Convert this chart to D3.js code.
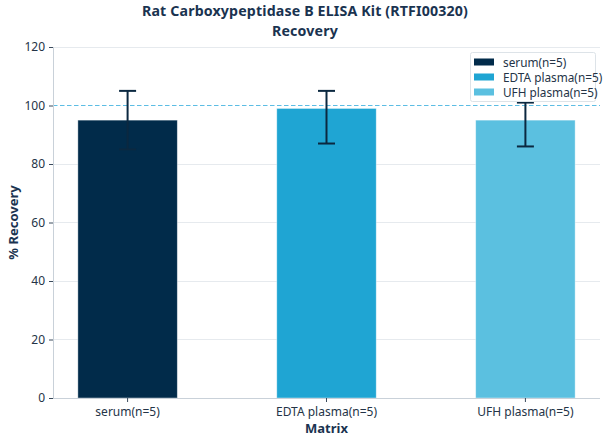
<html>
<head>
<style>
  body { margin: 0; background: #fff; }
  text { font-family: "Noto Sans", "Open Sans", sans-serif; }
</style>
</head>
<body>
<svg id="chart" width="608" height="444"></svg>
<script src="https://cdn.jsdelivr.net/npm/d3@7"></script>
<script>
  const categories = ["serum(n=5)", "EDTA plasma(n=5)", "UFH plasma(n=5)"]
  const recovery = [95, 99, 95]
  const errLow = [85, 87, 86]
  const errHigh = [105, 105, 101]
  const colors = ["#012b4a", "#1fa5d3", "#5bc0e0"]
  const yTicks = [0, 20, 40, 60, 80, 100, 120]
  const titleLines = ["Rat Carboxypeptidase B ELISA Kit (RTFI00320)", "Recovery"]

  const svg = d3.select("#chart")
  const plotL = 53, plotR = 600, plotT = 47, plotB = 398

  let x = d3.scaleBand().domain(categories).range([plotL, plotR])
    .paddingInner(0.5).paddingOuter(0.125)
  let y = d3.scaleLinear().domain([0, 120]).range([plotB, plotT])
  const crisp = v => Math.floor(v) + 0.5

  // grid (skip 100, the dashed line sits there)
  svg.append("g").selectAll("line").data(yTicks.filter(d => d != 100)).enter().append("line")
    .attr("x1", plotL).attr("x2", plotR)
    .attr("y1", d => crisp(y(d))).attr("y2", d => crisp(y(d)))
    .attr("stroke", "#e6eaee").attr("stroke-width", 1)

  // bars
  svg.append("g").selectAll("rect").data(categories).enter().append("rect")
    .attr("x", d => x(d))
    .attr("width", x.bandwidth())
    .attr("y", (d, i) => y(recovery[i]))
    .attr("height", (d, i) => y(0) - y(recovery[i]))
    .attr("fill", (d, i) => colors[i])
    .attr("stroke", "rgba(255,255,255,0.5)").attr("stroke-width", 0.8)

  // reference line at 100
  svg.append("line")
    .attr("x1", plotL).attr("x2", plotR)
    .attr("y1", crisp(y(100))).attr("y2", crisp(y(100)))
    .attr("stroke", "#5cbde4").attr("stroke-width", 1.2)
    .attr("stroke-dasharray", "4.5,2.5")

  // error bars
  let eb = svg.append("g").selectAll("g").data(categories).enter().append("g")
  const cx = d => x(d) + x.bandwidth() / 2
  eb.append("line")
    .attr("x1", cx).attr("x2", cx)
    .attr("y1", (d, i) => y(errLow[i])).attr("y2", (d, i) => y(errHigh[i]))
    .attr("stroke", "#0b2840").attr("stroke-width", 2)
  for (let arr of [errLow, errHigh]) {
    eb.append("line")
      .attr("x1", d => cx(d) - 8.5).attr("x2", d => cx(d) + 8.5)
      .attr("y1", (d, i) => y(arr[i])).attr("y2", (d, i) => y(arr[i]))
      .attr("stroke", "#0b2840").attr("stroke-width", 2)
  }

  // axes
  let yAxis = svg.append("g").attr("transform", `translate(${plotL},0)`)
    .call(d3.axisLeft(y).tickValues(yTicks).tickSize(4).tickPadding(4))
  let xAxis = svg.append("g").attr("transform", `translate(0,${plotB})`)
    .call(d3.axisBottom(x).tickSize(4).tickPadding(5))
  for (let a of [yAxis, xAxis]) {
    a.select(".domain").attr("stroke", "#c9d1d9")
    a.selectAll(".tick line").attr("stroke", "#3a4a5c")
    a.selectAll(".tick text").attr("fill", "#243447")
      .style("font-family", "'Noto Sans'").style("font-size", "12px")
  }
  xAxis.select(".domain").attr("d", `M${plotL},0.5H${plotR}`)

  // title, two lines in one text element
  svg.append("text").attr("text-anchor", "middle")
    .attr("font-weight", "bold").attr("font-size", 14.2).attr("fill", "#1a3350")
    .attr("letter-spacing", 0.15)
    .selectAll("tspan").data(titleLines).enter().append("tspan")
    .attr("x", 305).attr("y", (d, i) => 16 + i * 19.5).text(d => d)
  svg.append("text").attr("x", (plotL + plotR) / 2).attr("y", 433).attr("text-anchor", "middle")
    .attr("font-weight", "bold").attr("font-size", 13).attr("fill", "#1a3350")
    .text("Matrix")
  svg.append("text").attr("transform", `translate(18,${(plotT + plotB) / 2}) rotate(-90)`)
    .attr("text-anchor", "middle")
    .attr("font-weight", "bold").attr("font-size", 13).attr("fill", "#1a3350")
    .text("% Recovery")

  // legend
  let lg = svg.append("g").attr("transform", "translate(470.5,52.5)")
  lg.append("rect").attr("width", 125).attr("height", 49).attr("rx", 2)
    .attr("fill", "rgba(255,255,255,0.85)").attr("stroke", "#dde3e8")
  let items = lg.selectAll("g").data(categories).enter().append("g")
    .attr("transform", (d, i) => `translate(0,${10 + i * 15})`)
  items.append("rect").attr("x", 3.5).attr("y", -4).attr("width", 20).attr("height", 7)
    .attr("fill", (d, i) => colors[i])
  items.append("text").attr("x", 32.5).attr("y", 4)
    .attr("font-size", 11.8).attr("fill", "#243447").text(d => d)
</script>
</body>
</html>
